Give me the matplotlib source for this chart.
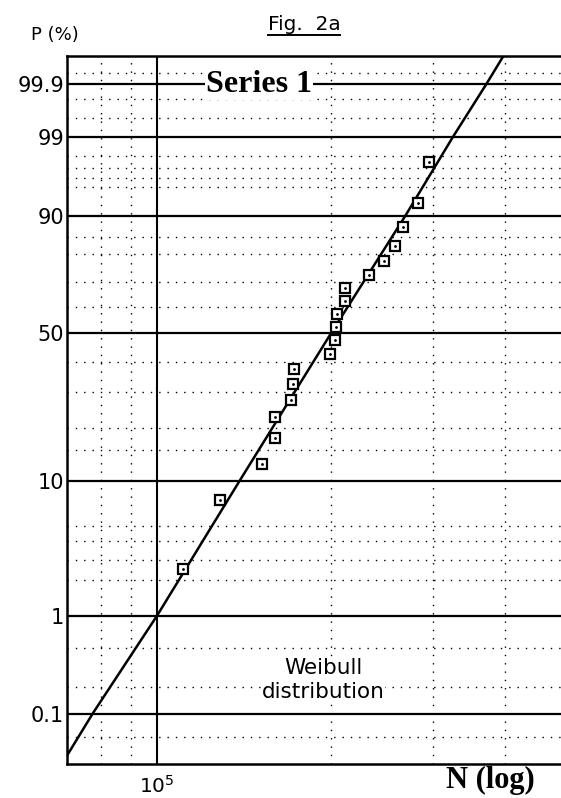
import matplotlib
matplotlib.use("Agg")
import matplotlib.pyplot as plt
import numpy as np
from matplotlib.lines import Line2D
from matplotlib.ticker import NullFormatter

# failure probability (%) vs. cycles to failure
fail_pct = [2.5, 7.5, 12.5, 17.5, 22.5, 27.5, 32.5, 37.5, 42.5, 47.5,
            52.5, 57.5, 62.5, 67.5, 72.5, 77.5, 82.5, 87.5, 92.5, 97.5]
cycles = [1.110e5, 1.285e5, 1.517e5, 1.601e5, 1.601e5, 1.704e5, 1.718e5, 1.725e5, 1.994e5, 2.035e5,
          2.041e5, 2.048e5, 2.117e5, 2.117e5, 2.325e5, 2.475e5, 2.576e5, 2.663e5, 2.827e5, 2.954e5]

# fitted straight line
fit_cycles = [6.98e4, 7.74e4, 1.0e5, 1.39e5, 2.0e5, 2.69e5, 3.25e5, 3.71e5, 3.97e5]
fit_pct = [0.0286, 0.1, 1, 10, 50, 90, 99, 99.9, 99.983]

major_pct = [0.1, 1, 10, 50, 90, 99, 99.9]
major_labels = ["0.1", "1", "10", "50", "90", "99", "99.9"]
minor_pct = [0.05, 0.2, 0.5, 2, 3, 4, 5, 15, 20, 30, 40, 60, 70, 80, 85,
             95, 96, 97, 98, 99.5, 99.8, 99.95]
minor_cycles = [8e4, 9e4, 2e5, 3e5, 4e5]

# the printed probability paper is only roughly Weibull: rows of the grid lines on the sheet
paper_pct = [0.0229, 0.05, 0.1, 0.2, 0.5, 1, 2, 3, 4, 5, 10, 15, 20, 30, 40, 50, 60, 70, 80,
             85, 90, 95, 96, 97, 98, 99, 99.5, 99.8, 99.9, 99.95, 99.983]
paper_row = [763.5, 737, 713.5, 686.5, 648, 615.7, 580, 559.5, 540.5, 526, 480.7, 449.6, 427.5,
             391.8, 361.8, 333.3, 307.3, 282, 253.5, 237, 215.7, 187, 177.5, 167.5, 156, 137,
             117.7, 99.3, 84.5, 72.7, 56.5]

W = np.log(-np.log(1 - np.array(paper_pct) / 100.0))
ROW = np.array(paper_row)


def forward(p):
    p = np.clip(np.asarray(p, dtype=float), 1e-7, 100 - 1e-7)
    w = np.log(-np.log(1 - p / 100.0))
    return -np.interp(w, W, ROW)


def inverse(u):
    w = np.interp(-np.asarray(u, dtype=float), ROW[::-1], W[::-1])
    return 100.0 * (1 - np.exp(-np.exp(w)))


fig = plt.figure(figsize=(5.61, 7.98), dpi=100)
ax = fig.add_axes([0.1203, 0.0432, 0.8797, 0.886])

ax.set_xscale("log")
ax.set_yscale("function", functions=(forward, inverse))
ax.set_xlim(7e4, 5e5)
ax.set_ylim(paper_pct[0], paper_pct[-1])

# fitted line and data points
ax.plot(fit_cycles, fit_pct, color="black", lw=1.8, zorder=4)
ax.plot(cycles, fail_pct, "s", ms=6.5, mfc="white", mec="black", mew=1.6, zorder=5)
ax.plot(cycles, fail_pct, ".", ms=2, color="black", zorder=6)

# grid
ax.set_yticks(major_pct, major_labels)
ax.set_yticks(minor_pct, minor=True)
ax.set_xticks([1e5], ["$10^5$"])
ax.set_xticks(minor_cycles, minor=True)
ax.xaxis.set_minor_formatter(NullFormatter())
ax.yaxis.set_minor_formatter(NullFormatter())
ax.grid(which="major", axis="y", color="black", lw=1.6, ls="-")
ax.grid(which="major", axis="x", color="black", lw=1.5, ls="-")
ax.grid(which="minor", color="black", lw=1.0, ls=(0, (1, 5)))
ax.set_axisbelow(True)

ax.tick_params(which="both", length=0)
ax.tick_params(axis="y", pad=2.5, labelsize=15)
ax.tick_params(axis="x", pad=8, labelsize=14.5)
for lab in ax.get_yticklabels() + ax.get_xticklabels():
    lab.set_family("DejaVu Sans")

for side in ["left", "bottom", "top"]:
    ax.spines[side].set_linewidth(1.8)
ax.spines["right"].set_visible(False)

# texts
fig.text(55 / 561, 1 - 35.5 / 798, "P (%)", fontsize=13, ha="center", va="center",
         family="DejaVu Sans")
title = fig.text(304 / 561, 1 - 25 / 798, "Fig.  2a", fontsize=14.5, ha="center", va="center",
                 family="DejaVu Sans")
fig.text(259 / 561, 1 - 85 / 798, "Series 1", fontsize=23, ha="center", va="center",
         family="Liberation Serif", weight="bold",
         bbox=dict(facecolor="white", edgecolor="none", pad=0.5), zorder=10)
fig.text(323 / 561, 1 - 680 / 798, "Weibull\ndistribution", fontsize=15.5, ha="center",
         va="center", multialignment="center", linespacing=1.3, family="DejaVu Sans",
         bbox=dict(facecolor="white", edgecolor="none", pad=0.5), zorder=10)
fig.text(490 / 561, 1 - 780 / 798, "N (log)", fontsize=22, ha="center", va="center",
         family="Liberation Serif", weight="bold")

# underline the figure title
fig.canvas.draw()
bb = title.get_window_extent().transformed(fig.transFigure.inverted())
fig.add_artist(Line2D([bb.x0, bb.x1], [bb.y0 - 0.001, bb.y0 - 0.001], color="black", lw=1.4,
                      transform=fig.transFigure))

fig.savefig("out.png", dpi=100)
